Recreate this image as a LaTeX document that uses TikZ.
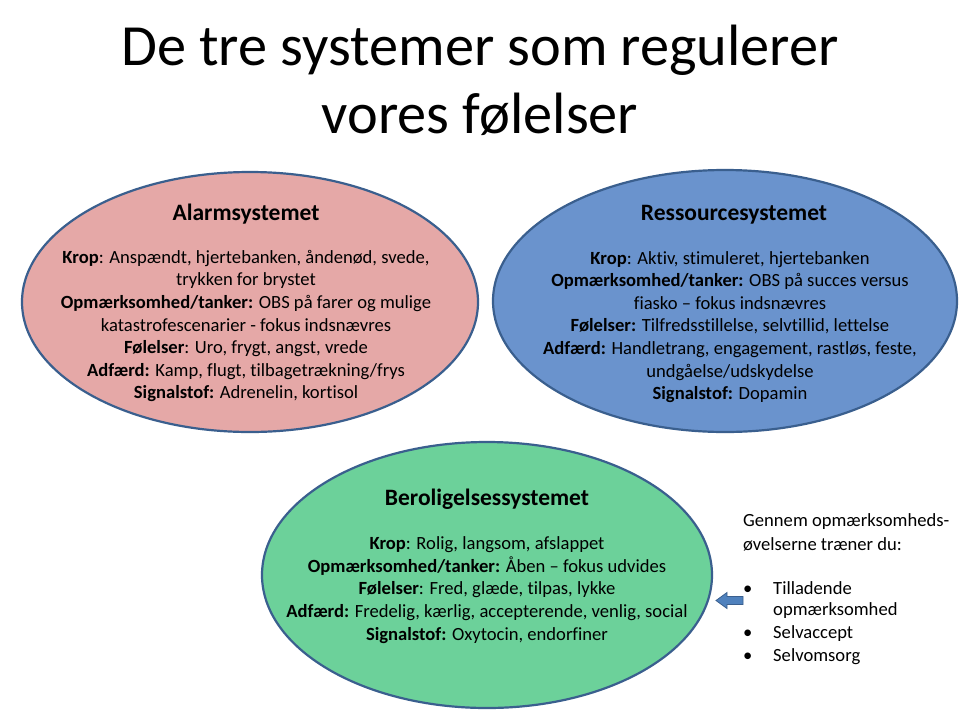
\documentclass[tikz,border=0pt]{standalone}
\usepackage{fontspec}
\setmainfont{Carlito}[Ligatures=NoCommon]
\usetikzlibrary{shapes.geometric,calc}
\definecolor{alarmfill}{RGB}{229,168,167}
\definecolor{resfill}{RGB}{106,147,205}
\definecolor{calmfill}{RGB}{108,209,154}
\definecolor{rimblue}{RGB}{58,95,142}
\definecolor{arrowblue}{RGB}{79,129,189}
\tikzset{
  sysoval/.style={ellipse, draw=rimblue, line width=2.2pt, inner sep=0pt},
  systitle/.style={font=\fontsize{23.5}{28}\selectfont\bfseries, anchor=base},
  sysbody/.style={font=\fontsize{18.6}{22.6}\selectfont, align=center, inner sep=0pt},
  sidetext/.style={font=\fontsize{18.6}{22.6}\selectfont, anchor=base west, inner sep=0pt},
  headline/.style={font=\fontsize{58.3}{68}\selectfont, anchor=base},
}
\begin{document}
\begin{tikzpicture}[x=1pt,y=-1pt]
\useasboundingbox (0,0) rectangle (960,720);
\fill[white] (0,0) rectangle (960,720);

% heading (two lines)
\node[headline] (head1) at (480,65) {De tre systemer som regulerer};
\node[headline] (head2) at (480,133) {vores følelser};

% the three systems
\node[sysoval, fill=alarmfill, minimum width=456, minimum height=260] (alarm) at (250,302) {};
\node[sysoval, fill=resfill, minimum width=464, minimum height=262] (res) at (725,301) {};
\node[sysoval, fill=calmfill, minimum width=450, minimum height=266] (calm) at (487,575) {};

\node[systitle] (alarmT) at (246,220) {Alarmsystemet};
\node[sysbody] (alarmB) at (246,326) {%
  \textbf{Krop}: Anspændt, hjertebanken, åndenød, svede,\\
  trykken for brystet\\
  \textbf{Opmærksomhed/tanker:} OBS på farer og mulige\\
  katastrofescenarier - fokus indsnævres\\
  \textbf{Følelser}: Uro, frygt, angst, vrede\\
  \textbf{Adfærd:} Kamp, flugt, tilbagetrækning/frys\\
  \textbf{Signalstof:} Adrenelin, kortisol};

\node[systitle] (resT) at (734,220) {Ressourcesystemet};
\node[sysbody] (resB) at (730,327) {%
  \textbf{Krop}: Aktiv, stimuleret, hjertebanken\\
  \textbf{Opmærksomhed/tanker:} OBS på succes versus\\
  fiasko – fokus indsnævres\\
  \textbf{Følelser:} Tilfredsstillelse, selvtillid,\ lettelse\\
  \textbf{Adfærd:} Handletrang, engagement, rastløs, feste,\\
  undgåelse/udskydelse\\
  \textbf{Signalstof:} Dopamin};

\node[systitle] (calmT) at (487,505) {Beroligelsessystemet};
\node[sysbody] (calmB) at (487,590) {%
  \textbf{Krop}: Rolig, langsom, afslappet\\
  \textbf{Opmærksomhed/tanker:} Åben – fokus udvides\\
  \textbf{Følelser}: Fred, glæde, tilpas, lykke\\
  \textbf{Adfærd:} Fredelig, kærlig, accepterende, venlig, social\\
  \textbf{Signalstof:} Oxytocin, endorfiner};

% side note with bullet list
\node[sidetext] (note1) at (743,526) {Gennem opmærksomheds-};
\node[sidetext] (note2) at (743,550) {øvelserne træner du:};
\node[sidetext] (b1) at (743,594) {•};
\node[sidetext] (t1) at (773,594) {Tilladende};
\node[sidetext] (t1b) at (773,615) {opmærksomhed};
\node[sidetext] (b2) at (743,638) {•};
\node[sidetext] (t2) at (773,638) {Selvaccept};
\node[sidetext] (b3) at (743,661) {•};
\node[sidetext] (t3) at (773,661) {Selvomsorg};

% block arrow pointing at the calming system
\coordinate (ptrTip) at (716,600.5);
\coordinate (ptrTail) at (743,600.5);
\fill[arrowblue, draw=rimblue, line width=0.8pt, line join=miter]
  (ptrTip) -- ++(11,-8) -- ++(0,4) -- ($(ptrTail)+(0,-4)$) -- ++(0,8) -- ($(ptrTip)+(11,4)$) -- ++(0,4) -- cycle;
\end{tikzpicture}
\end{document}
